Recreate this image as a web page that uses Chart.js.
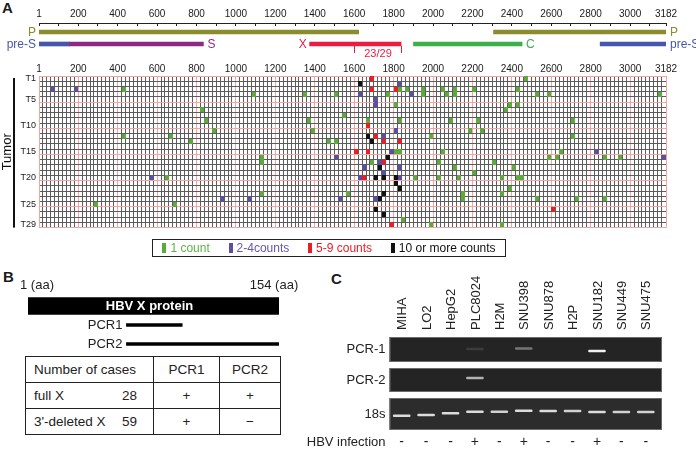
<!DOCTYPE html>
<html>
<head>
<meta charset="utf-8">
<script src="https://cdn.jsdelivr.net/npm/chart.js@4.4.1/dist/chart.umd.min.js"></script>
<style>
  html, body { margin: 0; padding: 0; background: #fff; }
  body { width: 696px; height: 449px; position: relative; overflow: hidden;
         font-family: "Liberation Sans", Arial, Helvetica, sans-serif; color: #1a1a1a; }
  canvas, .abs { position: absolute; }
  .panel { font-weight: bold; font-size: 15px; }
  #legend { left: 152px; top: 239px; width: 352px; height: 16px; border: 1px solid #222;
            display: flex; align-items: center; justify-content: space-around; font-size: 12px; }
  #legend span.mk { display: inline-block; width: 4px; height: 10px; margin-right: 4px; vertical-align: -1px; }
  #caseTable { left: 25px; top: 356px; border-collapse: collapse; font-size: 13.5px; color: #222; }
  #caseTable td { border: 1px solid #222; height: 25px; padding: 0 8px; }
</style>
</head>
<body>
<div class="abs panel" style="left:2px;top:-1px">A</div>
<div class="abs panel" style="left:3px;top:268px">B</div>
<div class="abs panel" style="left:331px;top:270px">C</div>

<canvas id="mapChart" width="696" height="60" style="left:0;top:0"></canvas>
<canvas id="gridChart" width="696" height="178" style="left:0;top:58px"></canvas>
<div id="legend" class="abs"></div>
<canvas id="hbxChart" width="330" height="88" style="left:0;top:268px"></canvas>
<table id="caseTable" class="abs"></table>
<canvas id="gelChart" width="406" height="187" style="left:290px;top:262px"></canvas>

<script>
// ---- panel A: genome map ----
const ntMax = 3182;
const geneNames = ['P', 'P', 'pre-S', 'S', 'X', 'C', 'pre-S'];
const geneStart = [1, 2307, 1, 155, 1374, 1901, 2848];
const geneEnd = [1623, 3182, 155, 835, 1838, 2452, 3182];
const geneTrack = [1, 1, 2, 2, 2, 2, 2];
const trackNames = ['P', 'pre-S'];
const breakRegion = [1600, 1840];
const breakLabel = '23/29';

// ---- panel A: breakpoints per tumour, [tumour, nt] ----
const tumors = Array.from({length: 29}, (_, i) => 'T' + (i + 1));
const tumorTicks = ['T1', 'T5', 'T10', 'T15', 'T20', 'T25', 'T29'];
const countLabels = ['1 count', '2-4counts', '5-9 counts', '10 or more counts'];
const oneCount = [
    [1, 2470],
    [3, 430], [3, 1830], [3, 1870], [3, 1950], [3, 2050], [3, 2110], [3, 2210], [3, 2430],
    [4, 1090], [4, 1350], [4, 1510], [4, 1770], [4, 1950], [4, 2070], [4, 2110], [4, 2530], [4, 2590], [4, 3150],
    [6, 1810], [6, 2390], [6, 2430],
    [7, 830], [7, 2370],
    [8, 1550],
    [9, 850], [9, 1370], [9, 1670], [9, 1830], [9, 2090], [9, 2230], [9, 2710],
    [11, 890], [11, 1390], [11, 2190], [11, 2250],
    [12, 430], [12, 670], [12, 1990], [12, 2710],
    [13, 770], [13, 1470], [13, 1510],
    [15, 1810], [15, 1830], [15, 2050], [15, 2650],
    [16, 1130], [16, 2590], [16, 2630], [16, 2870], [16, 2950],
    [17, 1130], [17, 1690], [17, 2030], [17, 2310],
    [18, 2110], [18, 2410],
    [19, 2210],
    [20, 650], [20, 1910], [20, 2030], [20, 2130], [20, 2350], [20, 2430], [20, 2450],
    [22, 2390],
    [23, 1130], [23, 1570], [23, 2150], [23, 2350],
    [24, 2150], [24, 2530], [24, 2730], [24, 2870],
    [25, 290], [25, 690],
    [28, 1850],
    [29, 1990], [29, 2350],
];
const twoToFour = [
    [2, 1830], [3, 70], [3, 190], [4, 1630], [4, 1890], [5, 1710], [6, 1710], [11, 1810],
    [12, 1750], [15, 1790], [15, 2830], [16, 1510], [16, 3170], [17, 1730], [18, 1650],
    [18, 1830], [19, 1750], [20, 570], [20, 1630], [20, 1830], [24, 930], [24, 1070],
    [24, 1530], [24, 1710],
];
const fiveToNine = [
    [1, 1690], [3, 1690], [3, 1810], [10, 1670], [12, 1710], [13, 1750], [13, 1830],
    [15, 1610], [15, 1670], [17, 1750], [20, 1650], [26, 2610], [29, 1790],
];
const tenPlus = [
    [2, 1630], [12, 1670], [13, 1690], [16, 1770], [18, 1730], [20, 1710], [20, 1750],
    [20, 1810], [21, 1810], [22, 1830], [23, 1750], [24, 1730], [26, 1710], [27, 1750],
];

// ---- panel B ----
const hbxParts = ['HBV X protein', 'PCR1', 'PCR2'];
const hbxFrom = [1, 61, 61];
const hbxTo = [154, 95, 154];
const caseRows = [['full X', 28, '+', '+'], ["3'-deleted X", 59, '+', '\u2212']];

// ---- panel C: gel ----
const gelLanes = ['MIHA', 'LO2', 'HepG2', 'PLC8024', 'H2M', 'SNU398', 'SNU878', 'H2P', 'SNU182', 'SNU449', 'SNU475'];
const hbvInfection = ['-', '-', '-', '+', '-', '+', '-', '-', '+', '-', '-'];
const gelStrips = ['PCR-1', 'PCR-2', '18s'];
const stripTop = [0, 31, 61];
const stripBottom = [25, 55, 93];
const pcr1Pos = [12, 12, 12, 12, 12, 11.5, 12, 12, 14, 12, 12];
const pcr1Signal = [0, 0, 0, 0.12, 0, 0.4, 0, 0, 1, 0, 0];
const pcr2Pos = [41, 41, 41, 41, 41, 41, 41, 41, 41, 41, 41];
const pcr2Signal = [0, 0, 0, 0.7, 0, 0, 0, 0, 0, 0, 0];
const rnaPos = [78.7, 78, 76.3, 74.7, 74.7, 73.7, 74, 74, 75, 75, 75];
const rnaSignal = [0.9, 0.9, 0.9, 0.9, 0.85, 0.9, 0.9, 0.85, 0.9, 0.85, 0.85];

// ---- styles ----
const FONT = '"Liberation Sans", Arial, Helvetica, sans-serif';
Chart.defaults.font.family = FONT;
Chart.defaults.color = '#1a1a1a';
Chart.defaults.animation = false;
Chart.defaults.plugins.legend.display = false;
Chart.defaults.plugins.tooltip.enabled = false;

const geneColors = { 'P': '#8c8c2c', 'pre-S': '#4756ad', 'S': '#8d2a84', 'X': '#ec1c40', 'C': '#3bb04a' };
const markColors = ['#5caa3a', '#5a4fa2', '#ec1c24', '#111111'];
const legendText = ['#5cb443', '#6456ae', '#ec1c24', '#111111'];
const pink = '#f4a3a3';
const cellLine = '#5c5c5c';

const isMajor = v => v === 1 || v === ntMax || v % 200 === 0;

// genome map chart
const geneLabelPlugin = {
    id: 'geneLabels',
    afterDatasetsDraw(chart) {
        const { ctx, chartArea, scales: { x, y } } = chart;
        ctx.save();
        ctx.font = '12px ' + FONT;
        ctx.textBaseline = 'middle';
        // track names on both sides
        trackNames.forEach((t, k) => {
            const yy = y.getPixelForValue(k + 1) + 0.5;
            ctx.fillStyle = geneColors[t];
            ctx.textAlign = 'right';
            ctx.fillText(t, chartArea.left - 3, yy);
            ctx.textAlign = 'left';
            ctx.fillText(t, chartArea.right + 4, yy);
        });
        geneNames.forEach((g, i) => {
            const yy = y.getPixelForValue(geneTrack[i]) + 1;
            ctx.fillStyle = geneColors[g];
            if (g === 'S' || g === 'C') {
                ctx.textAlign = 'left';
                ctx.fillText(g, x.getPixelForValue(geneEnd[i]) + 4, yy);
            } else if (g === 'X') {
                ctx.textAlign = 'right';
                ctx.fillText(g, x.getPixelForValue(geneStart[i]) - 3, yy);
            }
        });
        const x1 = Math.round(x.getPixelForValue(breakRegion[0])) + 0.5;
        const x2 = Math.round(x.getPixelForValue(breakRegion[1])) + 0.5;
        const yb = y.getPixelForValue(2);
        ctx.strokeStyle = geneColors['X'];
        ctx.lineWidth = 1;
        ctx.beginPath();
        ctx.moveTo(x1, yb + 2); ctx.lineTo(x1, yb + 9);
        ctx.moveTo(x2, yb + 2); ctx.lineTo(x2, yb + 9);
        ctx.stroke();
        ctx.fillStyle = geneColors['X'];
        ctx.font = '11px ' + FONT;
        ctx.textAlign = 'center';
        ctx.fillText(breakLabel, (x1 + x2) / 2, yb + 10);
        ctx.restore();
    },
};

new Chart(document.getElementById('mapChart'), {
    type: 'bar',
    data: {
        datasets: [{
            data: geneNames.map((g, i) => ({ x: [geneStart[i], geneEnd[i]], y: geneTrack[i] })),
            backgroundColor: geneNames.map(g => geneColors[g]),
            barThickness: 4,
            borderSkipped: false,
        }],
    },
    options: {
        indexAxis: 'y',
        responsive: false,
        layout: { padding: { top: 0, bottom: 7, left: 39, right: 30 } },
        scales: {
            x: {
                type: 'linear', position: 'top', min: 1, max: ntMax,
                afterBuildTicks: s => {
                    const t = [{ value: 1 }];
                    for (let v = 100; v < ntMax; v += 100) t.push({ value: v });
                    t.push({ value: ntMax });
                    s.ticks = t;
                },
                afterFit: s => { s.height = 23; },
                ticks: { autoSkip: false, maxRotation: 0, font: { size: 10 }, padding: 6,
                         callback: v => (isMajor(v) ? String(v) : '') },
                grid: { drawOnChartArea: false, drawTicks: true, tickLength: -3, color: '#222' },
                border: { color: '#222', width: 1 },
            },
            y: {
                type: 'linear', display: false, min: 0.25, max: 2.75, reverse: true, offset: false,
            },
        },
    },
    plugins: [geneLabelPlugin],
});

// breakpoint grid chart
function markImage(color) {
    const c = document.createElement('canvas');
    c.width = 4; c.height = 5;
    const g = c.getContext('2d');
    g.fillStyle = color;
    g.fillRect(0, 0, 4, 5);
    return c;
}

const tumorBarPlugin = {
    id: 'tumorBar',
    afterDraw(chart) {
        const { ctx, chartArea } = chart;
        ctx.save();
        ctx.fillStyle = '#111';
        ctx.fillRect(13, chartArea.top + 2, 2, chartArea.height - 2);
        ctx.restore();
    },
};

new Chart(document.getElementById('gridChart'), {
    type: 'scatter',
    data: {
        datasets: [oneCount, twoToFour, fiveToNine, tenPlus].map((arr, k) => ({
            label: countLabels[k],
            data: arr.map(([t, nt]) => ({ x: nt, y: t })),
            pointStyle: markImage(markColors[k]),
            pointRadius: 3,
        })),
    },
    options: {
        responsive: false,
        layout: { padding: { top: 4, bottom: 4, left: 0, right: 30 } },
        scales: {
            x: {
                type: 'linear', position: 'top', min: 1, max: ntMax,
                afterBuildTicks: s => {
                    const t = [{ value: 1 }];
                    for (let v = 20; v < ntMax - 10; v += 20) t.push({ value: v });
                    t.push({ value: ntMax });
                    s.ticks = t;
                },
                ticks: { autoSkip: false, maxRotation: 0, font: { size: 10 }, padding: 1,
                         callback: v => (isMajor(v) ? String(v) : '') },
                grid: { drawTicks: false, lineWidth: 1,
                        color: c => (c.tick && isMajor(c.tick.value) ? pink : cellLine) },
                border: { color: pink },
            },
            y: {
                type: 'linear', reverse: true, min: 0.5, max: tumors.length + 0.5,
                afterBuildTicks: s => { s.ticks = tumors.map((t, i) => ({ value: i + 1 })); },
                afterFit: s => { s.width = 39; },
                ticks: { autoSkip: false, font: { size: 9 }, padding: 3,
                         callback: v => (tumorTicks.includes(tumors[v - 1]) ? tumors[v - 1] : '') },
                grid: { offset: true, drawTicks: false, lineWidth: 1,
                        color: c => (c.type !== 'tick' || c.index % 5 === 0 ? pink : cellLine) },
                border: { color: pink },
                title: { display: true, text: 'Tumor', font: { size: 13 }, padding: 0, color: '#111' },
            },
        },
    },
    plugins: [tumorBarPlugin],
});

// legend
document.getElementById('legend').innerHTML = countLabels.map((l, k) =>
    `<span style="color:${legendText[k]}"><span class="mk" style="background:${markColors[k]}"></span>${l}</span>`
).join('');

// ---- panel B ----
const hbxLabelPlugin = {
    id: 'hbxLabels',
    afterDatasetsDraw(chart) {
        const { ctx, scales: { x } } = chart;
        ctx.save();
        ctx.textBaseline = 'middle';
        // residue numbers above the protein bar
        ctx.fillStyle = '#222';
        ctx.font = '13px ' + FONT;
        const ya = x.bottom - 11;
        ctx.textAlign = 'left';
        ctx.fillText(hbxFrom[0] + ' (aa)', x.getPixelForValue(hbxFrom[0]) - 8, ya);
        ctx.textAlign = 'center';
        ctx.fillText(hbxTo[0] + ' (aa)', x.getPixelForValue(hbxTo[0]) - 5, ya);
        hbxParts.forEach((p, i) => {
            const bar = chart.getDatasetMeta(i).data[i];
            const left = Math.min(bar.x, bar.base), right = Math.max(bar.x, bar.base);
            if (i === 0) {
                ctx.fillStyle = '#fff';
                ctx.font = 'bold 13px ' + FONT;
                ctx.textAlign = 'center';
                ctx.fillText(p, (left + right) / 2 - 4, bar.y);
            } else {
                ctx.fillStyle = '#222';
                ctx.font = '13px ' + FONT;
                ctx.textAlign = 'right';
                ctx.fillText(p, left - 4, bar.y);
            }
        });
        ctx.restore();
    },
};

new Chart(document.getElementById('hbxChart'), {
    type: 'bar',
    data: {
        labels: hbxParts,
        datasets: hbxParts.map((p, i) => ({
            data: hbxParts.map((q, j) => (j === i ? [hbxFrom[i], hbxTo[i]] : null)),
            backgroundColor: '#000',
            barThickness: i === 0 ? 17 : 3,
            grouped: false,
            borderSkipped: false,
        })),
    },
    options: {
        indexAxis: 'y',
        responsive: false,
        layout: { padding: { top: 0, bottom: 2.5, left: 28, right: 51 } },
        scales: {
            x: {
                type: 'linear', position: 'top', min: 1, max: 154,
                afterFit: s => { s.height = 28.5; },
                ticks: { display: false },
                grid: { display: false, drawTicks: false }, border: { display: false },
            },
            y: { display: false },
        },
    },
    plugins: [hbxLabelPlugin],
});

document.getElementById('caseTable').innerHTML =
    '<tr><td style="width:111px">Number of cases</td><td style="width:49px;text-align:center">PCR1</td><td style="width:44px;text-align:center">PCR2</td></tr>' +
    caseRows.map(r => `<tr><td><span>${r[0]}</span><span style="float:right;padding-right:8px">${r[1]}</span></td>` +
        `<td style="text-align:center">${r[2]}</td><td style="text-align:center">${r[3]}</td></tr>`).join('');

// ---- panel C ----
const gelPlugin = {
    id: 'gelStrips',
    beforeDatasetsDraw(chart) {
        const { ctx, chartArea, scales: { y } } = chart;
        ctx.save();
        gelStrips.forEach((s, k) => {
            const t = y.getPixelForValue(stripTop[k]), b = y.getPixelForValue(stripBottom[k]);
            ctx.fillStyle = k === 2 ? '#2c2c2c' : '#242424';
            ctx.fillRect(chartArea.left, t, chartArea.width + 4, b - t);
            ctx.strokeStyle = '#6b6b6b';
            ctx.lineWidth = 1;
            ctx.strokeRect(chartArea.left + 0.5, t + 0.5, chartArea.width + 3, b - t - 1);
        });
        ctx.restore();
    },
    afterDraw(chart) {
        const { ctx, chartArea, scales: { x, x2 } } = chart;
        ctx.save();
        ctx.fillStyle = '#222';
        ctx.font = '13px ' + FONT;
        ctx.textBaseline = 'middle';
        // rotated lane names above the gel
        gelLanes.forEach((l, i) => {
            ctx.save();
            ctx.translate(x.getPixelForValue(i) + 1, chartArea.top - 7);
            ctx.rotate(-Math.PI / 2);
            ctx.textAlign = 'left';
            ctx.fillText(l, 0, 0);
            ctx.restore();
        });
        ctx.textAlign = 'right';
        ctx.fillText('HBV infection', chartArea.left - 4, x2.top + 12);
        ctx.restore();
    },
};

const bandSet = (pos, sig) => ({
    data: gelLanes.map((l, i) => (sig[i] > 0 ? [pos[i] - 1.3, pos[i] + 1.3] : null)),
    backgroundColor: sig.map(s => `rgba(240,240,240,${s})`),
    grouped: false,
    barPercentage: 0.72,
    categoryPercentage: 1,
    borderSkipped: false,
    borderRadius: 1,
});

new Chart(document.getElementById('gelChart'), {
    type: 'bar',
    data: {
        labels: gelLanes,
        datasets: [bandSet(pcr1Pos, pcr1Signal), bandSet(pcr2Pos, pcr2Signal), bandSet(rnaPos, rnaSignal)],
    },
    options: {
        responsive: false,
        layout: { padding: { top: 0, bottom: 0, left: 0, right: 38 } },
        scales: {
            x: {
                position: 'top',
                afterFit: s => { s.height = 75; },
                ticks: { display: false },
                grid: { display: false, drawTicks: false }, border: { display: false },
            },
            x2: {
                type: 'category', labels: hbvInfection, position: 'bottom', offset: true,
                afterFit: s => { s.height = 19; },
                ticks: { autoSkip: false, maxRotation: 0, font: { size: 14 }, padding: 4, color: '#222' },
                grid: { display: false, drawTicks: false }, border: { display: false },
            },
            y: {
                type: 'linear', min: 0, max: 93, reverse: true,
                afterBuildTicks: s => { s.ticks = gelStrips.map((g, k) => ({ value: (stripTop[k] + stripBottom[k]) / 2 })); },
                afterFit: s => { s.width = 99.5; },
                ticks: { font: { size: 13 }, padding: 4, color: '#222',
                         callback: (v, i) => gelStrips[i] },
                grid: { display: false, drawTicks: false }, border: { display: false },
            },
        },
    },
    plugins: [gelPlugin],
});
</script>
</body>
</html>
